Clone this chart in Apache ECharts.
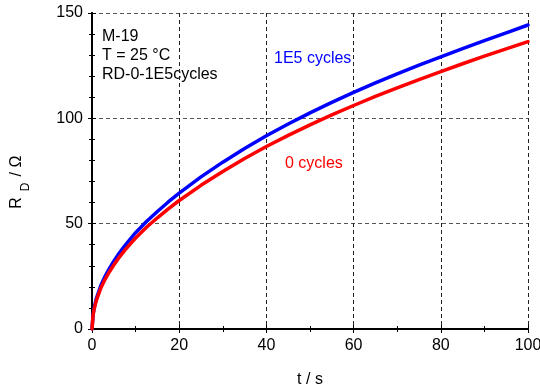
<!DOCTYPE html>
<html>
<head>
<meta charset="utf-8">
<script src="https://cdn.jsdelivr.net/npm/echarts@6/dist/echarts.min.js"></script>
<style>
  html, body { margin: 0; padding: 0; background: #fff; }
  #chart { width: 540px; height: 390px; }
</style>
</head>
<body>
<div id="chart"></div>
<script>
// Time axis (s) and measured resistance R_D (Ω) for both states
const timeS = [0, 0.25, 0.5, 1, 2, 3, 4, 5, 6, 7.5, 9, 10, 12.5, 15, 17.5, 20, 25, 30, 35, 40, 45, 50, 55, 60, 65, 70, 75, 80, 85, 90, 95, 100];
const rdCycled = [0, 7, 10, 14.5, 20.5, 25, 28.8, 32.2, 35.3, 39.5, 43.3, 45.7, 51, 55.8, 60.3, 64.5, 72.2, 79.2, 85.7, 91.7, 97.3, 102.6, 107.6, 112.3, 116.8, 121.1, 125.2, 129.2, 133.1, 136.9, 140.6, 144.3];
const rdFresh  = [0, 6.5, 9.5, 13.6, 19.3, 23.6, 27.2, 30.4, 33.4, 37.3, 40.9, 43.2, 48.3, 52.8, 57, 61, 68.2, 74.8, 80.9, 86.6, 91.9, 96.9, 101.6, 106.1, 110.4, 114.5, 118.4, 122.2, 125.9, 129.5, 133, 136.4];

const xTicks = [0, 20, 40, 60, 80, 100];
const yTicks = [0, 50, 100, 150];

const FONT = '"Liberation Sans", Arial, sans-serif';

const pairs = (xs, ys) => xs.map((x, i) => [x, ys[i]]);

const chart = echarts.init(document.getElementById('chart'), null, { renderer: 'canvas' });

const frameLine = { show: true, lineStyle: { color: '#000', width: 2 } };
const innerTick = { show: true, inside: true, length: 4, lineStyle: { color: '#000' } };

chart.setOption({
  animation: false,
  backgroundColor: '#fff',
  grid: { left: 92, top: 13, width: 436, height: 316, containLabel: false, outerBoundsMode: 'none' },
  xAxis: [
    {
      type: 'value', min: xTicks[0], max: xTicks[xTicks.length - 1], interval: 20,
      position: 'bottom',
      axisLine: frameLine,
      axisTick: innerTick,
      minorTick: { show: true, splitNumber: 2, length: 3, lineStyle: { color: '#000' } },
      axisLabel: { color: '#000', fontSize: 16, fontFamily: FONT, margin: 9 },
      splitLine: { show: true, lineStyle: { color: '#222', type: [4, 3], width: 1 } },
      name: 't / s', nameLocation: 'middle', nameGap: 43,
      nameTextStyle: { color: '#000', fontSize: 16, fontFamily: FONT }
    },
    {
      type: 'value', min: xTicks[0], max: xTicks[xTicks.length - 1], interval: 20,
      position: 'top',
      axisLine: frameLine,
      axisTick: innerTick,
      minorTick: { show: true, splitNumber: 2, length: 3, lineStyle: { color: '#000' } },
      axisLabel: { show: false },
      splitLine: { show: false }
    }
  ],
  yAxis: [
    {
      type: 'value', min: yTicks[0], max: yTicks[yTicks.length - 1], interval: 50,
      position: 'left',
      axisLine: frameLine,
      axisTick: innerTick,
      minorTick: { show: true, splitNumber: 5, length: 3, lineStyle: { color: '#000' } },
      axisLabel: { color: '#000', fontSize: 16, fontFamily: FONT, margin: 9 },
      splitLine: { show: true, lineStyle: { color: '#555', type: [4, 3], width: 1 } }
    },
    {
      type: 'value', min: yTicks[0], max: yTicks[yTicks.length - 1], interval: 50,
      position: 'right',
      axisLine: frameLine,
      axisTick: innerTick,
      minorTick: { show: true, splitNumber: 5, length: 3, lineStyle: { color: '#000' } },
      axisLabel: { show: false },
      splitLine: { show: false }
    }
  ],
  series: [
    {
      name: '1E5 cycles', type: 'line', xAxisIndex: 0, yAxisIndex: 0,
      data: pairs(timeS, rdCycled),
      showSymbol: false, smooth: false,
      lineStyle: { color: '#0000ff', width: 3.5, join: 'round', cap: 'round' }, z: 3
    },
    {
      name: '0 cycles', type: 'line', xAxisIndex: 0, yAxisIndex: 0,
      data: pairs(timeS, rdFresh),
      showSymbol: false, smooth: false,
      lineStyle: { color: '#ff0000', width: 3.5, join: 'round', cap: 'round' }, z: 4
    }
  ],
  graphic: [
    { type: 'text', left: 102, top: 29, style: { text: 'M-19', fill: '#000', font: '16px ' + FONT } },
    { type: 'text', left: 102, top: 48, style: { text: 'T = 25 °C', fill: '#000', font: '16px ' + FONT } },
    { type: 'text', left: 102, top: 67, style: { text: 'RD-0-1E5cycles', fill: '#000', font: '16px ' + FONT } },
    { type: 'text', left: 274, top: 51, style: { text: '1E5 cycles', fill: '#0000ff', font: '16px ' + FONT } },
    { type: 'text', left: 285, top: 156, style: { text: '0 cycles', fill: '#ff0000', font: '16px ' + FONT } },
    // rotated y-axis title: R with subscript D, then "/ Ω"
    { type: 'text', x: 17, y: 203, rotation: Math.PI / 2,
      style: { text: 'R', fill: '#000', font: '16px ' + FONT, align: 'center', verticalAlign: 'middle' } },
    { type: 'text', x: 26, y: 187, rotation: Math.PI / 2,
      style: { text: 'D', fill: '#000', font: '12px ' + FONT, align: 'center', verticalAlign: 'middle' } },
    { type: 'text', x: 17, y: 166, rotation: Math.PI / 2,
      style: { text: '/ Ω', fill: '#000', font: '16px ' + FONT, align: 'center', verticalAlign: 'middle' } }
  ]
});
</script>
</body>
</html>
